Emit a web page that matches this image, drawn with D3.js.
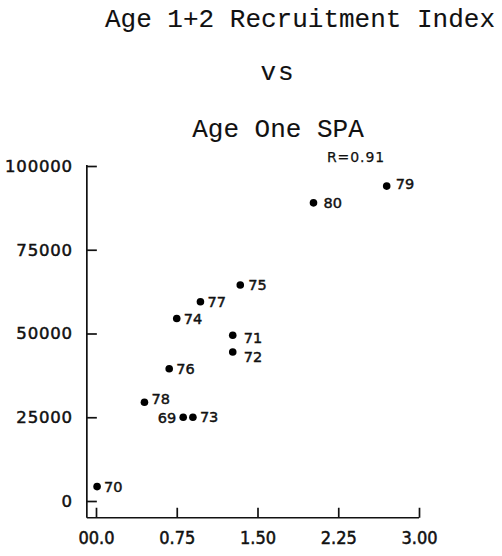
<!DOCTYPE html>
<html>
<head>
<meta charset="utf-8">
<script src="https://cdn.jsdelivr.net/npm/d3@7"></script>
<style>
  body { margin: 0; background: #fff; }
  .title { font-family: "Liberation Mono", "DejaVu Sans Mono", monospace; font-size: 26px; fill: #111; stroke: #111; stroke-width: 0.1px; }
  .ylab text { font-family: "DejaVu Sans", sans-serif; font-size: 16.5px; letter-spacing: 0.8px; fill: #111; stroke: #111; stroke-width: 0.5px; }
  .xlab text { font-family: "DejaVu Sans Condensed", "DejaVu Sans", sans-serif; font-size: 18px; fill: #111; stroke: #111; stroke-width: 0.5px; }
  .pt-label { font-family: "DejaVu Sans", sans-serif; font-size: 14.5px; fill: #111; stroke: #111; stroke-width: 0.45px; }
  .rlab { font-family: "DejaVu Sans", sans-serif; font-size: 14px; letter-spacing: 0.9px; fill: #111; stroke: #111; stroke-width: 0.25px; }
</style>
</head>
<body>
<div id="chart"></div>
<script>
// data
const years = ["69", "70", "71", "72", "73", "74", "75", "76", "77", "78", "79", "80"];
const spa = [0.81, 0.01, 1.27, 1.27, 0.90, 0.75, 1.34, 0.68, 0.97, 0.45, 2.70, 2.02];
const recruitIndex = [25000, 4300, 49500, 44500, 25000, 54500, 64500, 39500, 59500, 29500, 94000, 89000];

const xTicks = [0, 0.75, 1.5, 2.25, 3];
const xTickLabels = ["00.0", "0.75", "1.50", "2.25", "3.00"];
const yTicks = [0, 25000, 50000, 75000, 100000];
const yTickLabels = ["0", "25000", "50000", "75000", "100000"];

const titleLines = ["Age 1+2 Recruitment Index", "vs", "Age One SPA"];
const rText = "R=0.91";

// label nudges (layout only)
const nudge = {
  "69": {dx: -7, dy: 1, anchor: "end"},
  "71": {dx: 11, dy: 3},
  "72": {dx: 11, dy: 5},
  "75": {dx: 8, dy: 0},
  "78": {dx: 7, dy: -3},
  "79": {dx: 9, dy: -2},
  "80": {dx: 10, dy: 0}
};

const width = 502, height = 556;

const svg = d3.select("#chart")
  .append("svg")
    .attr("width", width)
    .attr("height", height);

const x = d3.scaleLinear().domain([0, 3]).range([96, 419]);
const y = d3.scaleLinear().domain([0, 100000]).range([501, 166]);

// axes sit a bit outside the zero values
const axisX = x(-0.085);
const axisY = y(-5000);

// titles
svg.append("text").attr("class", "title")
  .attr("x", 300).attr("y", 27).attr("text-anchor", "middle")
  .text(titleLines[0]);
svg.append("text").attr("class", "title")
  .attr("x", 278).attr("y", 80).attr("text-anchor", "middle")
  .attr("letter-spacing", 2)
  .text(titleLines[1]);
svg.append("text").attr("class", "title")
  .attr("x", 278).attr("y", 137).attr("text-anchor", "middle")
  .text(titleLines[2]);

// R label
svg.append("text").attr("class", "rlab")
  .attr("x", 356).attr("y", 162).attr("text-anchor", "middle")
  .text(rText);

// y axis
const yAxis = svg.append("g")
  .attr("class", "ylab")
  .attr("transform", `translate(${axisX},0)`)
  .call(d3.axisLeft(y)
    .tickValues(yTicks)
    .tickFormat((d, i) => yTickLabels[i])
    .tickSizeInner(-10)
    .tickSizeOuter(0)
    .tickPadding(14));
yAxis.select(".domain").remove();
yAxis.selectAll("line").attr("stroke", "#111").attr("stroke-width", 1.7);

// x axis
const xAxis = svg.append("g")
  .attr("class", "xlab")
  .attr("transform", `translate(0,${axisY})`)
  .call(d3.axisBottom(x)
    .tickValues(xTicks)
    .tickFormat((d, i) => xTickLabels[i])
    .tickSizeInner(-10)
    .tickSizeOuter(0)
    .tickPadding(13));
xAxis.select(".domain").remove();
xAxis.selectAll("line").attr("stroke", "#111").attr("stroke-width", 1.7);

// axis lines
svg.append("line")
  .attr("x1", axisX).attr("x2", axisX)
  .attr("y1", y(100000) - 1).attr("y2", axisY)
  .attr("stroke", "#111").attr("stroke-width", 1.7);
svg.append("line")
  .attr("x1", axisX).attr("x2", x(3))
  .attr("y1", axisY).attr("y2", axisY)
  .attr("stroke", "#111").attr("stroke-width", 1.7);

// points
const pts = years.map((yr, i) => ({year: yr, spa: spa[i], idx: recruitIndex[i]}));

svg.selectAll("circle")
  .data(pts)
  .join("circle")
    .attr("cx", d => x(d.spa))
    .attr("cy", d => y(d.idx))
    .attr("r", 3.8)
    .attr("fill", "#000");

svg.selectAll(".pt-label")
  .data(pts)
  .join("text")
    .attr("class", "pt-label")
    .attr("x", d => x(d.spa) + (nudge[d.year] ? nudge[d.year].dx : 7))
    .attr("y", d => y(d.idx) + (nudge[d.year] ? nudge[d.year].dy : 0))
    .attr("dy", "0.36em")
    .attr("text-anchor", d => nudge[d.year] && nudge[d.year].anchor ? nudge[d.year].anchor : "start")
    .text(d => d.year);
</script>
</body>
</html>
